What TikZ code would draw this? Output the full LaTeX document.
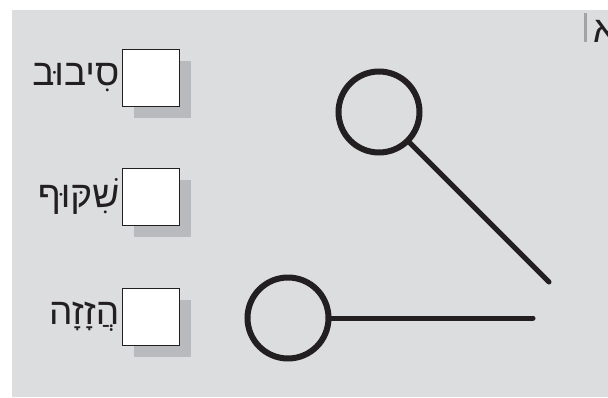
\documentclass[tikz,border=0pt]{standalone}
\usepackage{fontspec}
\setmainfont{Liberation Serif}
\newfontfamily\hebfont[Script=Hebrew]{Liberation Sans}
\TeXXeTstate=1
\usepackage{xcolor}
\usetikzlibrary{positioning}
\definecolor{panelgray}{HTML}{DCDDDF}
\definecolor{shadowgray}{HTML}{B9BABD}
\definecolor{bargray}{HTML}{A3A3A3}
\definecolor{inkblack}{HTML}{231F20}

\tikzset{
  checkbox/.style={draw=inkblack, line width=1pt, fill=white,
                   minimum size=57pt, inner sep=0pt},
  shadowbox/.style={fill=shadowgray, minimum size=57pt, inner sep=0pt},
  answer/.style={font=\hebfont\fontsize{37}{37}\selectfont, text=inkblack,
                 inner sep=0pt},
  ring/.style={circle, draw=inkblack, line width=6pt, minimum size=81pt,
               inner sep=0pt},
  stick/.style={draw=inkblack, line width=5pt, line cap=round},
}

\begin{document}
\begin{tikzpicture}[x=1pt, y=-1pt]
  \useasboundingbox (0,0) rectangle (608,397);

  %% Panel
  \fill[panelgray] (12,10) rectangle (608,397);

  %% Page mark, top right
  \fill[bargray] (584,13) rectangle (586.5,42);
  \node[answer, anchor=base west] (pagemark) at (593,42) {\hebfont\beginR א\endR};

  %% Tick boxes with their shadows and labels
  \foreach \n/\y/\w in {siv/77.5/{סִיבוּב}, shik/196.5/{שִׁקּוּף}, haz/316.5/{הֲזָזָה}} {
    \node[shadowbox] (shadow\n) at (162.5,\y+12) {};
    \node[checkbox] (box\n) at (150.5,\y) {};
    \node[answer, left=2pt of box\n] (label\n) {\beginR\w\endR};
  }

  %% Rotation and slide pictures
  \node[ring] (ringtop) at (379,112) {};
  \coordinate (endtop) at (549,282);
  \draw[stick] (ringtop) -- (endtop);

  \node[ring] (ringlow) at (288,318) {};
  \coordinate (endlow) at (533,318);
  \draw[stick] (ringlow) -- (endlow);
\end{tikzpicture}
\end{document}
